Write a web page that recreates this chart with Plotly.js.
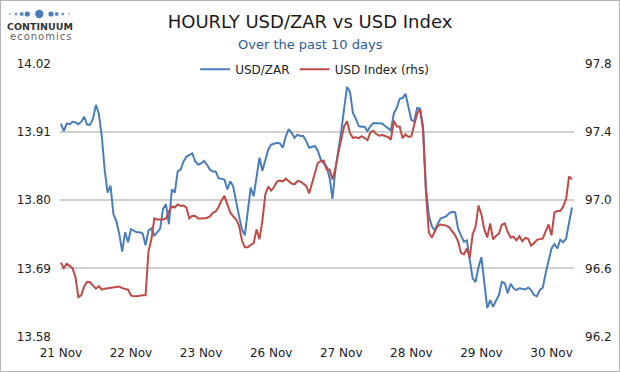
<!DOCTYPE html>
<html><head><meta charset="utf-8">
<script src="https://cdn.plot.ly/plotly-3.0.1.min.js"></script>
<style>html,body{margin:0;padding:0;background:#fff;} #chart{width:618px;height:370px;border:1px solid #b4b4b4;}</style>
</head><body><div id="chart"></div><script>
// Day labels (trading days) and the hour index at which each day starts
const dayLabels = ["21 Nov","22 Nov","23 Nov","26 Nov","27 Nov","28 Nov","29 Nov","30 Nov"];
const dayStartHour = [0,24,48,72,96,120,144,168];

// Left axis ticks (USD/ZAR) and right axis ticks (USD Index)
const zarTicks = [13.58,13.69,13.80,13.91,14.02];
const dxyTicks = [96.2,96.6,97.0,97.4,97.8];

// Hourly USD/ZAR
const usdzar = [
13.923,13.911,13.923,13.922,13.926,13.925,13.922,13.926,13.934,13.921,13.921,13.931,
13.953,13.939,13.903,13.849,13.812,13.823,13.777,13.766,13.745,13.717,13.748,13.732,
13.753,13.750,13.748,13.748,13.746,13.727,13.751,13.754,13.743,13.748,13.754,13.786,
13.793,13.761,13.817,13.812,13.846,13.849,13.862,13.870,13.873,13.875,13.862,13.857,
13.859,13.863,13.857,13.849,13.846,13.846,13.835,13.834,13.833,13.817,13.830,13.822,
13.796,13.774,13.753,13.743,13.782,13.820,13.806,13.841,13.868,13.847,13.862,13.881,
13.889,13.891,13.892,13.891,13.884,13.902,13.914,13.908,13.900,13.905,13.903,13.903,
13.895,13.884,13.886,13.887,13.879,13.865,13.859,13.854,13.836,13.802,13.849,13.878,
13.911,13.948,13.982,13.974,13.940,13.931,13.919,13.918,13.918,13.911,13.919,13.924,
13.924,13.923,13.923,13.919,13.916,13.912,13.939,13.948,13.963,13.964,13.971,13.948,
13.929,13.926,13.948,13.947,13.919,13.820,13.775,13.758,13.751,13.761,13.770,13.772,
13.774,13.779,13.781,13.780,13.754,13.743,13.733,13.735,13.701,13.674,13.668,13.692,
13.708,13.665,13.626,13.639,13.628,13.638,13.647,13.668,13.666,13.650,13.665,13.658,
13.655,13.658,13.657,13.656,13.659,13.655,13.647,13.645,13.655,13.659,13.682,13.705,
13.722,13.729,13.722,13.736,13.732,13.738,13.761,13.788
];

// Hourly USD Index (rhs)
const usdIndex = [
96.633,96.601,96.627,96.612,96.601,96.548,96.431,96.443,96.496,96.521,96.519,96.499,
96.481,96.496,96.475,96.481,96.484,96.488,96.489,96.493,96.493,96.484,96.478,96.475,
96.441,96.436,96.437,96.441,96.443,96.443,96.700,96.770,96.892,96.886,96.886,96.886,
96.892,96.933,96.962,96.956,96.974,96.965,96.968,96.955,96.892,96.908,96.907,96.892,
96.892,96.895,96.895,96.904,96.925,96.933,96.959,96.997,97.024,96.974,96.927,96.904,
96.886,96.851,96.764,96.723,96.723,96.738,96.746,96.828,96.770,96.880,97.032,97.079,
97.055,97.076,97.108,97.114,97.108,97.125,97.110,97.096,97.092,97.111,97.108,97.093,
97.082,97.038,97.096,97.169,97.219,97.227,97.230,97.178,97.178,97.120,97.184,97.277,
97.362,97.432,97.461,97.391,97.364,97.367,97.362,97.374,97.363,97.350,97.397,97.405,
97.386,97.376,97.380,97.375,97.369,97.353,97.464,97.430,97.430,97.362,97.385,97.369,
97.373,97.440,97.507,97.531,97.411,97.044,96.808,96.780,96.819,96.848,96.856,96.851,
96.850,96.840,96.819,96.793,96.758,96.691,96.682,96.717,96.662,96.799,96.843,96.968,
96.915,96.828,96.781,96.863,96.770,96.790,96.803,96.855,96.863,96.813,96.780,96.785,
96.764,96.788,96.758,96.778,96.773,96.733,96.746,96.767,96.771,96.774,96.816,96.857,
96.793,96.927,96.935,96.936,96.962,97.006,97.137,97.122
];

const hours = usdzar.map((_, i) => i);

const FONT = "DejaVu Sans, Verdana, sans-serif";
const BLUE = "#4a7ebb";
const RED = "#be4b48";

const traces = [
  {x: hours, y: usdzar, type: "scatter", mode: "lines", name: "USD/ZAR",
   line: {color: BLUE, width: 2}, yaxis: "y"},
  {x: hours, y: usdIndex, type: "scatter", mode: "lines", name: "USD Index (rhs)",
   line: {color: RED, width: 2}, yaxis: "y2"}
];

// logo dots
const dotSpec = [[10,1,"#9fb3cf"],[16,1.5,"#7d9ccb"],[21.7,2,"#5f89c2"],[27.3,2.6,"#4a7ebb"],[39.3,4.2,"#4a7ebb"],[51,2.6,"#4a7ebb"],[56.7,2,"#5f89c2"],[62.7,1.5,"#7d9ccb"],[69,1,"#9fb3cf"]];
const shapes = dotSpec.map(d => ({
  type: "circle", xref: "paper", yref: "paper",
  xsizemode: "pixel", ysizemode: "pixel",
  xanchor: (d[0] - 60) / 514, yanchor: (337 - 14) / 274,
  x0: -d[1], x1: d[1], y0: -d[1], y1: d[1],
  fillcolor: d[2], line: {width: 0}
}));

const layout = {
  width: 618, height: 370,
  margin: {l: 59, r: 45, t: 62, b: 34, pad: 0},
  paper_bgcolor: "#fff", plot_bgcolor: "#fff",
  font: {family: FONT, size: 12, color: "#222"},
  title: {text: "HOURLY USD/ZAR vs USD Index", font: {family: FONT, size: 18, color: "#1a1a1a"},
          x: 0.5, xref: "container", xanchor: "center", y: 0.943, yref: "container", yanchor: "middle"},
  showlegend: true,
  legend: {orientation: "h", x: 0.263, xanchor: "left", y: 1.03, yanchor: "top",
           bgcolor: "rgba(0,0,0,0)", font: {family: FONT, size: 12, color: "#222"}},
  xaxis: {range: [-0.3, 175.7], tickvals: dayStartHour, ticktext: dayLabels,
          showgrid: false, zeroline: false, showline: false, ticks: "",
          ticklabelstandoff: 7, tickfont: {family: FONT, size: 12, color: "#222"}},
  yaxis: {range: [13.5795, 14.0205], tickvals: zarTicks, ticktext: zarTicks.map(v => v.toFixed(2)),
          showgrid: true, gridcolor: "#d0d0d0", gridwidth: 2, zeroline: false, showline: false,
          ticks: "", ticklabelstandoff: 8, tickfont: {family: FONT, size: 12, color: "#222"}},
  yaxis2: {range: [96.198, 97.802], tickvals: dxyTicks, ticktext: dxyTicks.map(v => v.toFixed(1)),
           overlaying: "y", side: "right", anchor: "x", showgrid: false, zeroline: false,
           showline: false, ticks: "", ticklabelstandoff: 10, tickfont: {family: FONT, size: 12, color: "#222"}},
  shapes: shapes,
  annotations: [
    {text: "Over the past 10 days", xref: "paper", yref: "paper", x: (310 - 60) / 514, y: (337 - 44) / 274,
     xanchor: "center", yanchor: "middle", showarrow: false, font: {family: FONT, size: 13, color: "#2f5b9a"}},
    {text: "<b>CONTINUUM</b>", xref: "paper", yref: "paper", x: (40 - 60) / 514, y: (337 - 26) / 274,
     xanchor: "center", yanchor: "middle", showarrow: false, font: {family: FONT, size: 9.5, color: "#333"}},
    {text: "e\u200Ac\u200Ao\u200An\u200Ao\u200Am\u200Ai\u200Ac\u200As", xref: "paper", yref: "paper", x: (40 - 60) / 514, y: (337 - 36) / 274,
     xanchor: "center", yanchor: "middle", showarrow: false, font: {family: FONT, size: 10, color: "#666"}}
  ]
};

Plotly.newPlot("chart", traces, layout, {staticPlot: true, displayModeBar: false});
</script></body></html>
